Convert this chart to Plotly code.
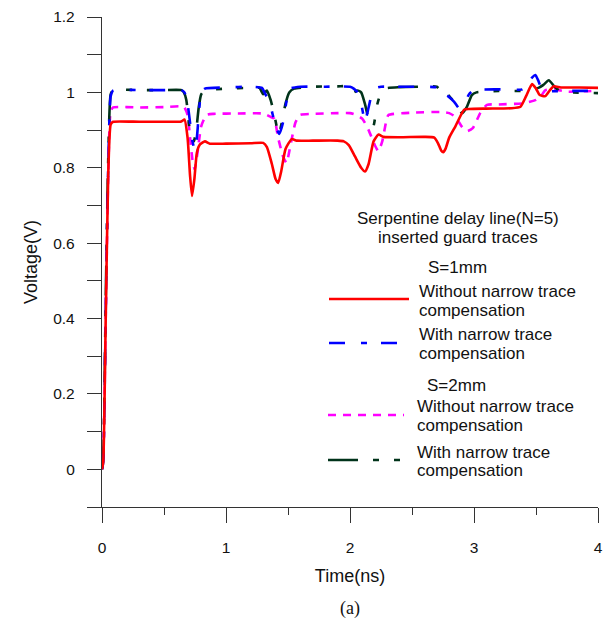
import plotly.graph_objects as go

# ---------------- data ----------------
time_ticks = [0, 1, 2, 3, 4]

red_t = [0, 0.01, 0.03, 0.05, 0.07, 0.09, 0.3, 0.5, 0.64, 0.665, 0.69, 0.71, 0.726, 0.745, 0.765, 0.79, 0.83, 0.87,
         1.0, 1.2, 1.30, 1.33, 1.37, 1.40, 1.421, 1.445, 1.48, 1.53, 1.57, 1.7, 1.9, 1.95, 1.99, 2.04, 2.09, 2.121,
         2.15, 2.19, 2.23, 2.27, 2.4, 2.6, 2.68, 2.71, 2.735, 2.752, 2.77, 2.80, 2.85, 2.92, 2.96, 3.1, 3.3, 3.375,
         3.42, 3.468, 3.50, 3.53, 3.575, 3.61, 3.643, 3.7, 3.85, 4.0]
red_v = [0, 0.02, 0.4, 0.78, 0.915, 0.922, 0.922, 0.922, 0.923, 0.928, 0.88, 0.78, 0.725, 0.77, 0.84, 0.862, 0.870, 0.864,
         0.864, 0.865, 0.866, 0.855, 0.81, 0.77, 0.760, 0.79, 0.85, 0.876, 0.872, 0.872, 0.872, 0.870, 0.86, 0.83, 0.80, 0.790,
         0.81, 0.87, 0.888, 0.882, 0.881, 0.882, 0.880, 0.865, 0.846, 0.841, 0.85, 0.88, 0.91, 0.954, 0.956, 0.957, 0.958, 0.962,
         0.99, 1.022, 1.01, 0.993, 0.99, 1.005, 1.016, 1.013, 1.013, 1.012]

blue_t = [0, 0.01, 0.03, 0.05, 0.07, 0.09, 0.3, 0.5, 0.64, 0.665, 0.69, 0.71, 0.73, 0.747, 0.765, 0.785, 0.80, 0.83,
          1.0, 1.2, 1.29, 1.31, 1.34, 1.37, 1.40, 1.43, 1.46, 1.49, 1.52, 1.6, 1.8, 2.0, 2.03, 2.06, 2.09, 2.121,
          2.15, 2.18, 2.21, 2.25, 2.4, 2.6, 2.70, 2.74, 2.79, 2.84, 2.88, 2.92, 2.96, 3.0, 3.2, 3.39, 3.43, 3.47,
          3.495, 3.52, 3.55, 3.6, 3.8, 4.0]
blue_v = [0, 0.02, 0.42, 0.8, 0.99, 1.005, 1.006, 1.006, 1.006, 1.0, 0.97, 0.92, 0.87, 0.848, 0.88, 0.96, 1.0, 1.01,
          1.013, 1.015, 1.012, 1.0, 0.98, 0.95, 0.91, 0.89, 0.92, 0.98, 1.01, 1.015, 1.015, 1.015, 1.01, 1.0, 0.97, 0.923,
          0.96, 1.0, 1.012, 1.015, 1.015, 1.015, 1.013, 1.0, 0.99, 0.975, 0.958, 0.97, 0.995, 1.006, 1.008, 1.008, 1.02, 1.04,
          1.046, 1.03, 1.006, 1.003, 1.004, 1.004]

magenta_t = [0, 0.01, 0.03, 0.05, 0.07, 0.09, 0.3, 0.5, 0.66, 0.69, 0.71, 0.73, 0.747, 0.77, 0.80, 0.842, 0.9, 1.1,
             1.30, 1.33, 1.36, 1.39, 1.42, 1.46, 1.488, 1.52, 1.56, 1.596, 1.7, 1.9, 2.0, 2.05, 2.10, 2.15, 2.2, 2.229,
             2.26, 2.29, 2.31, 2.5, 2.75, 2.80, 2.85, 2.90, 2.943, 2.99, 3.05, 3.105, 3.2, 3.40, 3.45, 3.50, 3.54, 3.576,
             3.65, 3.75, 3.9, 4.0]
magenta_v = [0, 0.03, 0.4, 0.78, 0.95, 0.96, 0.96, 0.961, 0.962, 0.94, 0.88, 0.82, 0.796, 0.84, 0.91, 0.94, 0.943, 0.944,
             0.944, 0.94, 0.935, 0.93, 0.88, 0.83, 0.813, 0.86, 0.92, 0.940, 0.943, 0.945, 0.945, 0.94, 0.93, 0.90, 0.86, 0.844,
             0.87, 0.92, 0.94, 0.946, 0.948, 0.945, 0.935, 0.91, 0.897, 0.905, 0.945, 0.967, 0.968, 0.971, 0.975, 0.98, 0.99, 1.006,
             1.008, 1.002, 1.003, 1.005]

green_t = [0, 0.01, 0.03, 0.05, 0.07, 0.09, 0.3, 0.5, 0.64, 0.66, 0.68, 0.70, 0.72, 0.74, 0.76, 0.78, 0.80, 0.83,
           1.0, 1.2, 1.27, 1.30, 1.33, 1.36, 1.39, 1.425, 1.45, 1.48, 1.51, 1.55, 1.7, 1.9, 2.0, 2.03, 2.06, 2.09,
           2.12, 2.15, 2.188, 2.215, 2.24, 2.28, 2.4, 2.6, 2.70, 2.74, 2.77, 2.80, 2.84, 2.88, 2.903, 2.94, 2.983, 3.02,
           3.2, 3.38, 3.45, 3.52, 3.56, 3.603, 3.65, 3.70, 3.8, 4.0]
green_v = [0, 0.03, 0.45, 0.82, 0.995, 1.006, 1.006, 1.006, 1.006, 1.0, 0.98, 0.92, 0.875, 0.87, 0.90, 0.96, 0.995, 1.005,
           1.01, 1.012, 1.012, 0.995, 1.005, 0.98, 0.94, 0.888, 0.92, 0.97, 1.0, 1.01, 1.015, 1.016, 1.016, 1.0, 1.005, 1.0,
           0.97, 0.93, 0.91, 0.962, 0.99, 1.01, 1.014, 1.015, 1.015, 1.0, 1.005, 0.99, 0.975, 0.955, 0.945, 0.96, 0.993, 1.0,
           1.004, 1.004, 1.008, 1.012, 1.02, 1.032, 1.015, 1.002, 1.0, 0.998]

legend_title = ["Serpentine delay line(N=5)", "inserted guard traces"]
group_titles = ["S=1mm", "S=2mm"]
entry_lines = [["Without narrow trace", "compensation"], ["With narrow trace", "compensation"],
               ["Without narrow trace", "compensation"], ["With narrow trace", "compensation"]]

# ---------------- styles ----------------
RED, BLUE, MAG, GRN = "#ff0000", "#0000ff", "#ff00ff", "#00331a"
DASH_BLUE = "16px,16px,6px,14px"
DASH_MAG = "8px,7px"
DASH_GRN = "30px,15px,6px,15px,6px,15px"
FONT = "Arial, Liberation Sans, sans-serif"
LW = 2.6

OFF = 8  # page body margin
W, H = 605, 616
L, R, T, B = 94, 15, 9, 117
PW, PH = W - L - R, H - T - B


def px(x):  # page pixel -> paper
    return (x - OFF - L) / PW


def py(y):
    return (H - B - (y - OFF)) / PH


fig = go.Figure()
series = [
    (magenta_t, magenta_v, MAG, DASH_MAG),
    (green_t, green_v, GRN, DASH_GRN),
    (blue_t, blue_v, BLUE, DASH_BLUE),
    (red_t, red_v, RED, "solid"),
]
for tt, vv, col, dash in series:
    fig.add_trace(go.Scatter(x=tt, y=vv, mode="lines", showlegend=False,
                             line=dict(color=col, width=LW, dash=dash, shape="spline", smoothing=0.5)))

# ---------------- custom legend ----------------
annos = []
shapes = []
head = [(458, 218, legend_title[0]), (458, 237, legend_title[1]),
        (457, 267, group_titles[0]), (456, 385, group_titles[1])]
for x, y, txt in head:
    annos.append(dict(x=px(x), y=py(y), text=txt, xref="paper", yref="paper", xanchor="center",
                      yanchor="middle", showarrow=False, font=dict(family=FONT, size=17, color="#111")))

entry_pos = [  # (line y, x0, x1, text left, text y1, text y2)
    (299, 329, 409, 417, 291, 310),
    (343, 329, 399, 417, 334, 353),
    (415, 328, 404, 415, 406, 425),
    (460, 328, 400, 415, 452, 470),
]
entry_style = [(RED, "solid"), (BLUE, DASH_BLUE), (MAG, DASH_MAG), (GRN, DASH_GRN)]
for (ly, x0, x1, tx, ty1, ty2), (col, dash), lines in zip(entry_pos, entry_style, entry_lines):
    shapes.append(dict(type="line", xref="paper", yref="paper", x0=px(x0), x1=px(x1), y0=py(ly), y1=py(ly),
                       line=dict(color=col, width=LW, dash=dash)))
    for txt, yy in zip(lines, (ty1, ty2)):
        annos.append(dict(x=px(tx), y=py(yy), text=txt, xref="paper", yref="paper", xanchor="left",
                          yanchor="middle", showarrow=False, font=dict(family=FONT, size=17, color="#111")))

annos.append(dict(x=px(350), y=py(608), text="(a)", xref="paper", yref="paper", xanchor="center",
                  yanchor="middle", showarrow=False, font=dict(family="Times New Roman, Liberation Serif, serif",
                                                                size=18, color="#111")))

axis_common = dict(showline=True, linecolor="#333", linewidth=1.3, showgrid=False, zeroline=False,
                   ticks="outside", tickcolor="#333", tickwidth=1.3, automargin=False,
                   ticklabeloverflow="allow",
                   tickfont=dict(family=FONT, size=15.5, color="#111"))

fig.update_layout(
    width=W, height=H, autosize=False,
    margin=dict(l=L, r=R, t=T, b=B),
    paper_bgcolor="white", plot_bgcolor="white",
    showlegend=False,
    annotations=annos, shapes=shapes,
    xaxis=dict(range=[0, 4], tickvals=time_ticks, ticklen=15, ticklabelstandoff=11,
               minor=dict(dtick=0.5, tick0=0, ticklen=7, ticks="outside", tickcolor="#333", tickwidth=1.3),
               title=dict(text="Time(ns)", font=dict(family=FONT, size=18, color="#111"), standoff=14),
               **axis_common),
    yaxis=dict(range=[-0.1, 1.2], tick0=0, dtick=0.2, ticklen=14, ticklabelstandoff=9,
               minor=dict(dtick=0.1, tick0=0, ticklen=14, ticks="outside", tickcolor="#333", tickwidth=1.3),
               title=dict(text="Voltage(V)", font=dict(family=FONT, size=18, color="#111"), standoff=10),
               **axis_common),
)

fig.write_html("out.html")
